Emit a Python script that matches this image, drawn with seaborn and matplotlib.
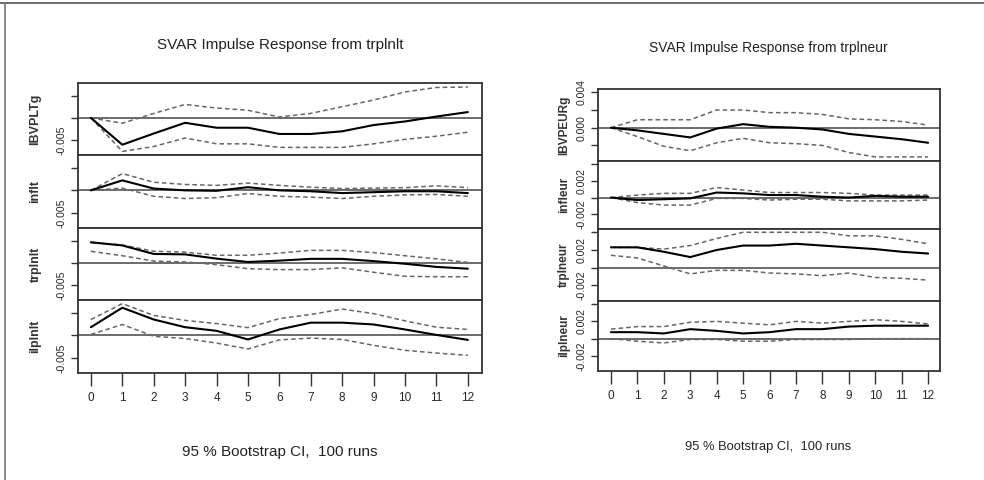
import matplotlib
matplotlib.use("Agg")
import matplotlib.pyplot as plt
from matplotlib.lines import Line2D
import numpy as np
import pandas as pd
import seaborn as sns

sns.set_style("white")
plt.rcParams["font.family"] = ["Liberation Sans", "DejaVu Sans"]

W, H = 984, 480
horizon = list(range(13))

# ---- left panel: shock from trplnlt ----
left_names = ["IBVPLTg", "inflt", "trplnlt", "ilplnlt"]
left_irf = [
    [0, -0.006, -0.0035, -0.0011, -0.0022, -0.0022, -0.0036, -0.0036, -0.003, -0.0016, -0.0008, 0.0003, 0.0013],
    [0, 0.0022, 0.0004, 0, -0.0001, 0.0007, 0, -0.0002, -0.0006, -0.0004, -0.0002, -0.0002, -0.0006],
    [0.0046, 0.0039, 0.002, 0.0019, 0.00095, 0.0002, 0.0005, 0.0009, 0.0009, 0.0004, -0.0002, -0.0009, -0.0013],
    [0.0018, 0.0061, 0.0035, 0.0018, 0.001, -0.0009, 0.0013, 0.0028, 0.0028, 0.0024, 0.0013, 0.0001, -0.001],
]
left_upper = [
    [0, -0.0012, 0.001, 0.003, 0.0022, 0.0017, 0.0002, 0.001, 0.0025, 0.004, 0.0058, 0.0068, 0.0069],
    [0, 0.0037, 0.0018, 0.0013, 0.0011, 0.0016, 0.0011, 0.0007, 0.0004, 0.0005, 0.0006, 0.001, 0.0006],
    [0.0046, 0.004, 0.0026, 0.0024, 0.0017, 0.0017, 0.0022, 0.0028, 0.0028, 0.0023, 0.0016, 0.0009, 0.0001],
    [0.0035, 0.007, 0.0044, 0.0033, 0.0026, 0.0017, 0.0037, 0.0046, 0.0058, 0.0048, 0.0032, 0.0018, 0.0013],
]
left_lower = [
    [0, -0.0075, -0.0064, -0.0045, -0.0058, -0.0058, -0.0066, -0.0066, -0.0066, -0.0058, -0.0048, -0.0041, -0.0032],
    [0, 0.0005, -0.0013, -0.0018, -0.0016, -0.0007, -0.0013, -0.0015, -0.0018, -0.0013, -0.001, -0.0009, -0.0013],
    [0.0026, 0.0016, 0.0004, 0.0002, -0.0004, -0.0013, -0.0015, -0.0015, -0.0011, -0.0021, -0.003, -0.0031, -0.0031],
    [0.0002, 0.0024, -0.0002, -0.0007, -0.0017, -0.003, -0.001, -0.0006, -0.0009, -0.0022, -0.0033, -0.0039, -0.0044],
]
left_ticks = [-0.005, 0, 0.005]
left_ticklabels = ["-0.005", "", ""]

# ---- right panel: shock from trplneur ----
right_names = ["IBVPEURg", "infleur", "trplneur", "ilplneur"]
right_irf = [
    [0, -0.0003, -0.0007, -0.0011, -0.0001, 0.0004, 0.0001, 0, -0.0002, -0.0007, -0.001, -0.0013, -0.0017],
    [0, -0.0003, -0.0002, -0.0001, 0.0006, 0.0005, 0.0003, 0.0003, 0.0001, 0, 0.0002, 0.0001, 0.0001],
    [0.0023, 0.0023, 0.0018, 0.0012, 0.002, 0.0025, 0.0025, 0.0027, 0.0025, 0.0023, 0.0021, 0.0018, 0.0016],
    [0.00075, 0.00075, 0.0006, 0.0011, 0.0009, 0.0006, 0.00075, 0.0011, 0.0011, 0.0014, 0.0015, 0.0015, 0.0015],
]
right_upper = [
    [0, 0.0009, 0.0009, 0.0009, 0.002, 0.002, 0.0017, 0.0017, 0.0015, 0.001, 0.0009, 0.0007, 0.0003],
    [0, 0.0003, 0.0005, 0.0005, 0.0012, 0.0009, 0.0006, 0.0006, 0.0006, 0.0005, 0.0003, 0.0003, 0.0003],
    [0.0023, 0.0023, 0.0021, 0.0025, 0.0033, 0.004, 0.004, 0.004, 0.004, 0.0036, 0.0036, 0.0032, 0.0027],
    [0.0011, 0.0014, 0.0014, 0.0019, 0.002, 0.0018, 0.0016, 0.002, 0.0018, 0.002, 0.0022, 0.002, 0.0017],
]
right_lower = [
    [0, -0.001, -0.0021, -0.0026, -0.0017, -0.0012, -0.0017, -0.0018, -0.002, -0.0028, -0.0033, -0.0033, -0.0033],
    [0, -0.0006, -0.0009, -0.0009, -0.0001, -0.0001, -0.0003, -0.0002, -0.0002, -0.0004, -0.0004, -0.0004, -0.0003],
    [0.0014, 0.0011, 0.0002, -0.0007, -0.0003, -0.0003, -0.0006, -0.0007, -0.0009, -0.0006, -0.0011, -0.0012, -0.0014],
    [0, -0.0003, -0.0005, -0.0001, -0.0001, -0.0003, -0.0003, -0.0001, -0.0001, -0.0001, 0, 0, 0],
]
right_ticks = [-0.002, 0, 0.002, 0.004]
right_ticklabels = [["", "0.000", "", "0.004"], ["-0.002", "", "0.002", ""],
                    ["-0.002", "", "0.002", ""], ["-0.002", "", "0.002", ""]]

panels = [
    dict(title="SVAR Impulse Response from trplnlt", names=left_names, irf=left_irf,
         upper=left_upper, lower=left_lower, ticks=left_ticks,
         ticklabels=[left_ticklabels] * 4, ylim=(-0.0083, 0.0078), xlim=(-0.41, 12.45),
         x0=78, x1=482, rows=[83, 155, 228, 300, 373], title_xy=(280, 45),
         foot_xy=(280, 452), title_size=11, foot_size=11, label_pad=11, name_size=9),
    dict(title="SVAR Impulse Response from trplneur", names=right_names, irf=right_irf,
         upper=right_upper, lower=right_lower, ticks=right_ticks,
         ticklabels=right_ticklabels, ylim=(-0.00376, 0.00437), xlim=(-0.49, 12.45),
         x0=598, x1=940, rows=[89, 161, 229, 301, 371], title_xy=(768, 48),
         foot_xy=(768, 447), title_size=10, foot_size=9.3, label_pad=5, name_size=8.5),
]

fig = plt.figure(figsize=(W / 100, H / 100), dpi=100)
fig.patch.set_facecolor("white")

for p in panels:
    rows = p["rows"]
    for i, name in enumerate(p["names"]):
        top, bot = rows[i], rows[i + 1]
        ax = fig.add_axes([p["x0"] / W, 1 - bot / H, (p["x1"] - p["x0"]) / W, (bot - top) / H])
        df = pd.DataFrame({"h": horizon, "irf": p["irf"][i],
                           "upper": p["upper"][i], "lower": p["lower"][i]})
        ax.axhline(0, color="#444444", lw=1.1, zorder=1)
        sns.lineplot(data=df, x="h", y="upper", ax=ax, color="#666666", lw=1.1,
                     linestyle=(0, (3, 2)), zorder=2)
        sns.lineplot(data=df, x="h", y="lower", ax=ax, color="#666666", lw=1.1,
                     linestyle=(0, (3, 2)), zorder=2)
        sns.lineplot(data=df, x="h", y="irf", ax=ax, color="black", lw=1.5, zorder=3)
        ax.set_xlim(*p["xlim"])
        ax.set_ylim(*p["ylim"])
        ax.set_yticks(p["ticks"])
        ax.set_yticklabels(p["ticklabels"][i], rotation=90, va="center")
        ax.tick_params(axis="y", length=5, width=1, color="#333333", labelsize=7.5,
                       pad=3, left=True)
        ax.set_ylabel(name, fontsize=p["name_size"], labelpad=p["label_pad"],
                      fontweight="bold", color="#333333")
        ax.set_xlabel("")
        for s in ax.spines.values():
            s.set_color("#333333")
            s.set_linewidth(1.3)
        ax.set_xticks(horizon)
        if i < 3:
            ax.tick_params(axis="x", bottom=False, labelbottom=False)
        else:
            ax.tick_params(axis="x", bottom=True, length=9, width=1, color="#333333",
                           labelsize=8.5, pad=5)
    fig.text(p["title_xy"][0] / W, 1 - p["title_xy"][1] / H, p["title"],
             ha="center", va="center", fontsize=p["title_size"], color="#222222")
    fig.text(p["foot_xy"][0] / W, 1 - p["foot_xy"][1] / H, "95 % Bootstrap CI,  100 runs",
             ha="center", va="center", fontsize=p["foot_size"], color="#222222")

# screenshot frame lines
fig.add_artist(Line2D([0, 1], [1 - 3 / H, 1 - 3 / H], color="#555555", lw=1.2))
fig.add_artist(Line2D([5 / W, 5 / W], [0, 1 - 3 / H], color="#777777", lw=1.2))

fig.savefig("out.png", dpi=100)
